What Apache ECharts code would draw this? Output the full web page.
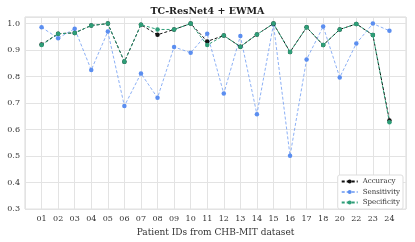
<!DOCTYPE html>
<html><head><meta charset="utf-8">
<script src="https://cdn.jsdelivr.net/npm/echarts@6/dist/echarts.min.js"></script>
<style>html,body{margin:0;padding:0;background:#fff}#c{width:415px;height:242px}</style>
</head><body><div id="c"></div>
<script>
var categories = ['01','02','03','04','05','06','07','08','09','10','11','12','13','14','15','16','17','18','20','22','23','24'];
var accuracy    = [0.921,0.962,0.965,0.993,1.000,0.856,0.996,0.958,0.978,1.000,0.933,0.955,0.913,0.959,1.000,0.893,0.986,0.919,0.978,0.999,0.957,0.634];
var sensitivity = [0.986,0.945,0.981,0.825,0.970,0.689,0.812,0.720,0.912,0.890,0.962,0.736,0.953,0.658,0.997,0.501,0.865,0.989,0.797,0.925,1.000,0.973];
var specificity = [0.919,0.962,0.965,0.993,1.000,0.856,0.996,0.978,0.978,1.000,0.919,0.955,0.913,0.959,1.000,0.893,0.986,0.919,0.978,0.999,0.957,0.628];
var yTicks = [0.3,0.4,0.5,0.6,0.7,0.8,0.9,1.0];

function pairs(arr){ return arr.map(function(v,i){ return [i+1, v]; }); }
var font = 'DejaVu Serif';
var chart = echarts.init(document.getElementById('c'), null, {renderer:'canvas'});
function mk(name, data, color, lineColor, opacity, z){
  return {name:name, type:'line', data:pairs(data), symbol:'circle', symbolSize:4.5, z:z,
    itemStyle:{color:color}, lineStyle:{color:lineColor, width:1, type:[3,2], opacity:opacity},
    emphasis:{disabled:true}, animation:false};
}
chart.setOption({
  animation:false,
  title:{text:'TC-ResNet4 + EWMA', left:'center', top:2,
    textStyle:{fontFamily:font, fontWeight:'bold', fontSize:9.5, color:'#222'}},
  grid:{left:25, right:9, top:17, bottom:30, show:true, borderColor:'#d9d9d9', borderWidth:1},
  xAxis:{type:'value', min:0, max:23, interval:1,
    name:'Patient IDs from CHB-MIT dataset', nameLocation:'middle', nameGap:17,
    nameTextStyle:{fontFamily:font, fontSize:9, color:'#333'},
    axisLine:{show:false}, axisTick:{show:false},
    axisLabel:{fontFamily:font, fontSize:8, color:'#333', margin:6,
      formatter:function(v){ var i=Math.round(v); return (i>=1&&i<=categories.length)?categories[i-1]:''; }},
    splitLine:{show:true, lineStyle:{color:'#e3e3e3', width:1}}},
  yAxis:{type:'value', min:0.3, max:1.025, interval:0.1,
    axisLine:{show:false}, axisTick:{show:false},
    axisLabel:{fontFamily:font, fontSize:8, color:'#333', margin:5, showMaxLabel:false,
      formatter:function(v){ for(var k=0;k<yTicks.length;k++){ if(Math.abs(v-yTicks[k])<1e-6) return yTicks[k].toFixed(1);} return ''; }},
    splitLine:{show:true, lineStyle:{color:'#e3e3e3', width:1}}},
  legend:{orient:'vertical', right:12, bottom:33, itemWidth:16, itemHeight:5, itemGap:3.5,
    backgroundColor:'#fff', borderColor:'#ddd', borderWidth:1, borderRadius:2, padding:[3,3,3,3],
    textStyle:{fontFamily:font, fontSize:7, color:'#333'},
    data:['Accuracy','Sensitivity','Specificity']},
  series:[
    mk('Sensitivity', sensitivity, '#5b8ef0', '#6f9cf2', 0.8, 1),
    mk('Accuracy', accuracy, '#111', '#111', 1, 2),
    mk('Specificity', specificity, '#2e9e78', '#2e9e78', 1, 3)
  ]
});
</script></body></html>
